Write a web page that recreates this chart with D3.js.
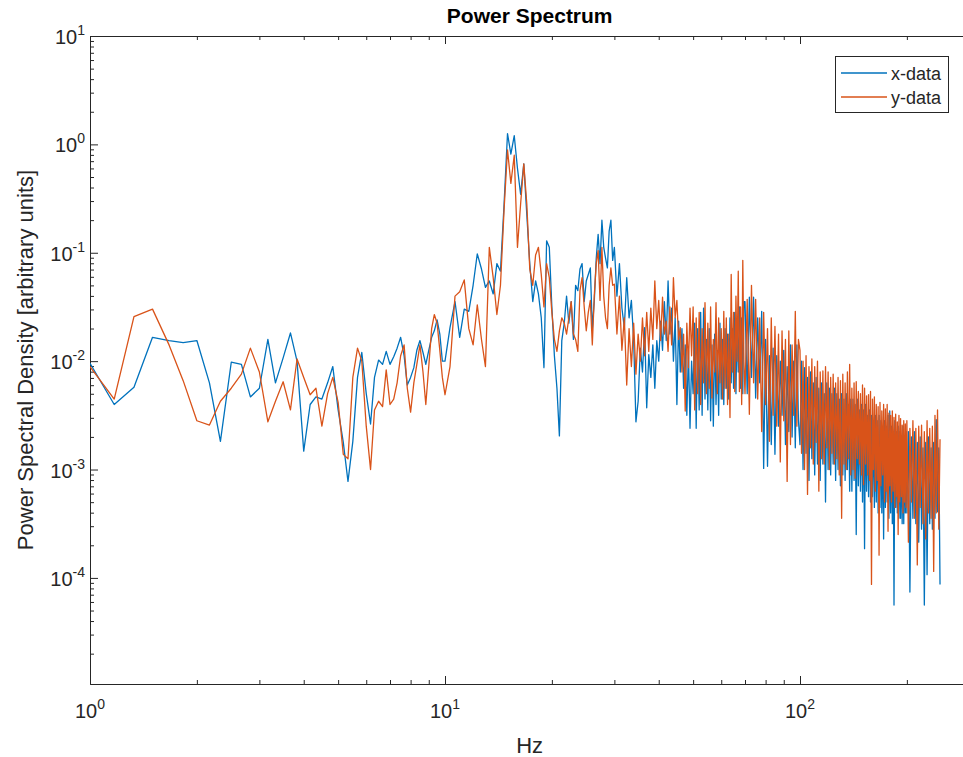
<!DOCTYPE html>
<html>
<head>
<meta charset="utf-8">
<script src="https://cdn.jsdelivr.net/npm/d3@7"></script>
<style>
  body { margin: 0; background: #fff; }
  text { font-family: "Liberation Sans", Arial, sans-serif; fill: #262626; }
</style>
</head>
<body>
<div id="chart"></div>
<script>
// frequencies (Hz), one list per band
const hzBand1 = [1,1.17,1.33,1.5,1.67,1.83,2,2.17,2.33,2.5,2.67,2.83,3,3.17,3.33,3.5,3.67,3.83,4,4.17,
  4.33,4.5,4.67,4.83,5,5.17,5.33,5.5,5.67,5.83,6,6.17,6.33,6.5,6.67,6.83,7,7.17,7.33,7.5,
  7.67,7.83,8,8.17,8.33,8.5,8.67,8.83,9,9.17,9.33,9.5,9.67,9.83];
const hzBand2 = [10,10.33,10.67,11,11.33,11.67,12,12.33,12.67,13,13.33,13.67,14,14.33,14.67,15,15.33,15.67,16,16.33,
  16.67,17,17.33,17.67,18,18.33,18.67,19,19.33,19.67,20,20.33,20.67,21,21.33,21.67,22,22.33,22.67,23,
  23.33,23.67,24,24.33,24.67,25,25.33,25.67,26,26.33,26.67,27,27.33,27.67,28,28.33,28.67,29,29.33,29.67];
const hzBand3 = [30,30.5,31,31.5,32,32.5,33,33.5,34,34.5,35,35.5,36,36.5,37,37.5,38,38.5,39,39.5,
  40,40.5,41,41.5,42,42.5,43,43.5,44,44.5,45,45.5,46,46.5,47,47.5,48,48.5,49,49.5];
const hzBand4 = [50,50.5,51,51.5,52,52.5,53,53.5,54,54.5,55,55.5,56,56.5,57,57.5,58,58.5,59,59.5,
  60,60.5,61,61.5,62,62.5,63,63.5,64,64.5,65,65.5,66,66.5,67,67.5,68,68.5,69,69.5];
const hzBand5 = [70,71,72,73,74,75,76,77,78,79,80,81,82,83,84,85,86,87,88,89,
  90,91,92,93,94,95,96,97,98,99];
const hzBand6 = [100,101,102,103,104,105,106,107,108,109,110,111,112,113,114,115,116,117,118,119,
  120,121,122,123,124,125,126,127,128,129,130,131,132,133,134,135,136,137,138,139];
const hzBand7 = [140,141,142,143,144,145,146,147,148,149,150,151,152,153,154,155,156,157,158,159,
  160,161,162,163,164,165,166,167,168,169,170,171,172,173,174,175,176,177,178,179,
  180,181,182,183,184,185,186,187,188,189,190,191,192,193,194,195,196,197,198,199];
const hzBand8 = [200,202,204,206,208,210,212,214,216,218,220,222,224,226,228,230,232,234,236,238,
  240,242,244,246,248];

// x-data, log10 of power spectral density
const xBand1 = [-2.02,-2.40,-2.24,-1.78,-1.81,-1.83,-1.81,-2.20,-2.74,-2.01,
  -2.03,-2.33,-2.25,-1.80,-2.20,-1.97,-1.74,-2.00,-2.83,-2.40,
  -2.33,-2.35,-2.20,-2.05,-2.45,-2.75,-3.11,-2.74,-2.15,-1.92,
  -2.30,-2.58,-2.15,-1.99,-2.03,-1.91,-2.03,-1.96,-1.88,-1.78,
  -1.95,-2.22,-2.15,-2.06,-1.90,-1.81,-1.92,-2.03,-1.90,-1.78,
  -1.72,-1.62,-1.75,-2.00];
const xBand2 = [-2.00,-1.69,-1.45,-1.78,-1.52,-1.54,-1.30,-1.01,-1.15,-1.32,
  -1.26,-1.38,-1.10,-1.17,-0.55,0.10,-0.09,0.08,-0.22,-0.46,
  -0.18,-0.65,-1.10,-1.45,-1.26,-1.38,-1.60,-2.06,-0.89,-0.95,
  -1.50,-1.95,-2.25,-2.69,-1.81,-1.65,-1.40,-1.65,-1.45,-1.80,
  -1.30,-1.35,-1.15,-1.10,-1.45,-1.26,-1.20,-1.14,-1.70,-1.45,
  -1.05,-0.83,-1.10,-0.70,-0.95,-1.05,-1.14,-0.80,-0.70,-1.07];
const xBand3 = [-0.95,-1.40,-1.10,-1.51,-1.69,-1.23,-1.60,-1.44,-1.81,-2.56,
  -2.37,-1.88,-2.10,-1.69,-2.43,-1.94,-2.15,-1.85,-2.25,-1.81,
  -2.00,-1.63,-1.90,-1.45,-1.81,-1.26,-1.75,-1.51,-2.00,-1.60,
  -2.40,-1.63,-2.10,-1.70,-2.25,-1.85,-2.50,-1.90,-2.62,-2.00];
const xBand4 = [-2.30,-1.65,-2.62,-1.70,-2.45,-1.55,-2.50,-1.51,-2.35,-1.80,
  -2.45,-1.70,-2.55,-1.85,-2.60,-1.75,-2.40,-1.90,-2.50,-1.65,
  -2.35,-1.80,-2.40,-1.70,-2.25,-1.75,-2.35,-1.60,-2.20,-1.70,
  -2.25,-1.55,-2.30,-1.65,-2.10,-1.50,-2.25,-1.60,-2.30,-1.45];
const xBand5 = [-1.45,-2.30,-1.41,-2.15,-1.41,-2.34,-1.60,-2.20,-1.54,-2.99,
  -1.80,-2.97,-1.95,-2.77,-1.88,-2.86,-1.95,-2.60,-2.00,-2.50,
  -1.90,-2.77,-2.05,-2.65,-1.85,-2.70,-2.00,-2.80,-1.85,-2.55];
const xBand6 = [-2.77,-2.00,-3.00,-2.06,-2.85,-2.15,-3.10,-2.10,-2.90,-2.20,
  -3.05,-2.15,-2.95,-2.25,-3.10,-2.20,-2.95,-2.30,-3.30,-2.20,
  -3.00,-2.25,-3.05,-2.30,-2.95,-2.25,-3.10,-2.30,-3.00,-2.35,
  -3.15,-2.30,-3.05,-2.35,-3.10,-2.30,-3.00,-2.40,-3.20,-2.35];
const xBand7 = [-3.20,-2.35,-3.10,-2.40,-3.60,-2.35,-3.15,-2.45,-3.20,-2.40,
  -3.30,-2.45,-3.73,-2.40,-3.20,-2.50,-3.25,-2.45,-3.30,-2.50,
  -3.25,-2.55,-3.35,-2.50,-3.30,-2.55,-3.40,-2.50,-3.35,-2.55,
  -3.40,-2.60,-3.64,-2.55,-3.35,-2.60,-3.30,-2.50,-3.45,-2.46,
  -3.40,-2.60,-3.50,-2.65,-4.25,-2.55,-3.35,-2.65,-3.40,-2.60,
  -3.45,-2.65,-3.45,-2.70,-3.50,-2.60,-3.50,-2.70,-3.40,-2.65];
const xBand8 = [-3.40,-2.65,-4.13,-2.70,-3.45,-2.65,-3.50,-2.75,-3.67,-2.70,
  -3.55,-2.80,-4.25,-2.75,-3.97,-2.70,-3.50,-2.80,-3.55,-2.75,
  -3.45,-2.54,-3.39,-2.80,-4.06];

// y-data, log10 of power spectral density
const yBand1 = [-2.05,-2.35,-1.59,-1.52,-1.85,-2.18,-2.55,-2.59,-2.37,-2.25,
  -2.12,-1.88,-2.10,-2.56,-2.37,-2.19,-2.45,-1.98,-2.15,-2.31,
  -2.25,-2.60,-2.30,-2.15,-2.38,-2.86,-2.90,-2.15,-1.88,-2.00,
  -2.60,-3.00,-2.45,-2.37,-2.42,-2.08,-2.40,-2.35,-2.20,-1.95,
  -1.85,-2.25,-2.47,-2.20,-2.03,-1.85,-2.10,-2.40,-2.05,-1.70,
  -1.57,-1.65,-1.90,-2.15];
const yBand2 = [-2.31,-2.05,-1.40,-1.36,-1.25,-1.70,-1.85,-1.48,-1.80,-2.05,
  -0.95,-1.23,-1.57,-1.30,-0.60,-0.05,-0.36,-0.10,-0.95,-0.55,
  -0.18,-0.55,-1.15,-1.30,-1.02,-0.95,-1.20,-1.50,-1.10,-1.23,
  -1.55,-1.80,-1.91,-1.72,-1.60,-1.65,-1.75,-1.60,-1.45,-1.75,
  -1.80,-1.91,-1.35,-1.23,-1.50,-1.72,-1.55,-1.44,-1.85,-1.40,
  -1.10,-0.98,-1.44,-0.95,-1.40,-1.60,-1.70,-1.30,-1.14,-1.30];
const yBand3 = [-1.29,-1.75,-1.40,-1.90,-1.60,-2.22,-1.70,-2.05,-1.65,-2.12,
  -1.75,-2.00,-1.60,-1.95,-1.55,-1.91,-1.51,-1.80,-1.26,-1.70,
  -1.44,-1.81,-1.41,-1.75,-1.63,-1.91,-1.50,-1.85,-1.23,-1.60,
  -1.44,-1.80,-1.69,-2.10,-1.75,-2.46,-1.65,-2.06,-1.51,-1.95];
const yBand4 = [-1.50,-2.45,-1.60,-2.30,-1.55,-2.40,-1.70,-2.20,-1.46,-2.30,
  -1.65,-2.25,-1.50,-2.34,-1.80,-2.10,-1.46,-2.30,-1.60,-2.20,
  -1.70,-2.35,-1.54,-2.25,-1.60,-2.40,-1.75,-2.52,-1.20,-2.10,
  -1.55,-2.28,-1.40,-2.00,-1.17,-2.28,-1.50,-2.40,-1.07,-2.00];
const yBand5 = [-2.30,-1.43,-2.49,-1.30,-2.20,-1.43,-2.35,-1.60,-2.65,-1.55,
  -2.40,-1.70,-2.74,-1.60,-2.50,-1.68,-2.60,-1.75,-2.93,-1.72,
  -2.55,-1.80,-3.11,-1.72,-2.77,-1.85,-2.50,-1.54,-2.60,-1.80];
const yBand6 = [-1.90,-2.85,-2.00,-3.00,-1.95,-3.23,-2.05,-2.80,-1.98,-2.95,
  -2.05,-2.75,-2.00,-3.20,-2.10,-2.90,-2.09,-2.95,-2.05,-2.80,
  -2.10,-3.00,-2.15,-2.85,-2.12,-2.95,-2.20,-2.90,-2.15,-3.05,
  -2.18,-3.45,-2.12,-2.95,-2.20,-3.00,-2.10,-2.90,-2.03,-3.05];
const yBand7 = [-2.25,-3.00,-2.20,-3.08,-2.19,-2.90,-2.28,-2.95,-2.30,-3.05,
  -2.22,-3.14,-2.25,-2.95,-2.32,-3.05,-2.31,-3.10,-2.28,-4.06,
  -2.35,-3.00,-2.33,-3.20,-2.40,-3.10,-2.42,-3.79,-2.38,-3.15,
  -2.46,-3.05,-2.40,-3.30,-2.44,-3.20,-2.40,-3.57,-2.48,-3.15,
  -2.50,-3.30,-2.46,-3.20,-2.52,-3.35,-2.49,-3.25,-2.56,-3.60,
  -2.50,-3.30,-2.53,-3.25,-2.59,-3.40,-2.55,-3.30,-2.58,-3.35];
const yBand8 = [-2.55,-3.67,-2.62,-3.30,-2.55,-3.45,-2.62,-3.88,-2.60,-3.35,
  -2.59,-3.50,-2.65,-3.64,-2.55,-3.40,-2.62,-3.45,-2.60,-3.94,
  -2.50,-3.40,-2.45,-3.55,-2.72];

const xTickValues = [1, 10, 100];
const xTickExps = ["0", "1", "2"];
const yTickValues = [1e-4, 1e-3, 1e-2, 1e-1, 1, 10];
const yTickExps = ["-4", "-3", "-2", "-1", "0", "1"];

const hz = [].concat(hzBand1, hzBand2, hzBand3, hzBand4, hzBand5, hzBand6, hzBand7, hzBand8);
const series = [
  {name: "x-data", color: "#0072BD",
   logs: [].concat(xBand1, xBand2, xBand3, xBand4, xBand5, xBand6, xBand7, xBand8)},
  {name: "y-data", color: "#D95319",
   logs: [].concat(yBand1, yBand2, yBand3, yBand4, yBand5, yBand6, yBand7, yBand8)}
];

const plotLeft = 90, plotTop = 36, plotBottom = 684;
const x = d3.scaleLog().domain([1, 300]).range([plotLeft, plotLeft + 355 * Math.log10(300)]);
const y = d3.scaleLog().domain([1.05e-5, 10]).range([plotBottom, plotTop]);
const plotRight = x.range()[1];
const axisColor = "#262626";

const svg = d3.select("#chart").append("svg")
    .attr("width", 963)
    .attr("height", 757);

svg.append("clipPath").attr("id", "plotClip")
  .append("rect")
    .attr("x", plotLeft).attr("y", plotTop)
    .attr("width", plotRight - plotLeft).attr("height", plotBottom - plotTop);

// minor tick positions per decade
const xMinor = [], yMinor = [];
[1, 10, 100].forEach(d => d3.range(2, 10).forEach(k => { if (k * d <= 300) xMinor.push(k * d); }));
d3.range(-5, 1).forEach(e => d3.range(2, 10).forEach(k => yMinor.push(k * Math.pow(10, e))));

function drawTicks(gen, transform, values, size) {
  svg.append("g")
      .attr("transform", transform)
      .call(gen.tickValues(values).tickSize(size).tickSizeOuter(0).tickFormat(""))
      .call(g => g.selectAll("line,path").attr("stroke", axisColor));
}
drawTicks(d3.axisBottom(x), `translate(0,${plotBottom})`, xTickValues, -8);
drawTicks(d3.axisBottom(x), `translate(0,${plotBottom})`, xMinor, -4);
drawTicks(d3.axisTop(x), `translate(0,${plotTop})`, xTickValues, -8);
drawTicks(d3.axisTop(x), `translate(0,${plotTop})`, xMinor, -4);
drawTicks(d3.axisLeft(y), `translate(${plotLeft},0)`, yTickValues, -8);
drawTicks(d3.axisLeft(y), `translate(${plotLeft},0)`, yMinor.filter(v => v >= y.domain()[0]), -4);

function powerLabel(sel, exp) {
  sel.append("tspan").text("10");
  sel.append("tspan").attr("dy", -9).attr("font-size", 14).text(exp);
}

svg.selectAll(".xlabel")
    .data(xTickValues)
  .enter()
    .append("text")
    .attr("x", d => x(d))
    .attr("y", 718)
    .attr("text-anchor", "middle")
    .attr("font-size", 20)
    .each(function(d, i) { powerLabel(d3.select(this), xTickExps[i]); });

svg.selectAll(".ylabel")
    .data(yTickValues)
  .enter()
    .append("text")
    .attr("x", 85)
    .attr("y", d => y(d) + 8)
    .attr("text-anchor", "end")
    .attr("font-size", 20)
    .each(function(d, i) { powerLabel(d3.select(this), yTickExps[i]); });

// spectra
const line = d3.line()
    .x((d, i) => x(hz[i]))
    .y(d => y(Math.pow(10, d)));

svg.append("g")
    .attr("clip-path", "url(#plotClip)")
  .selectAll("path")
    .data(series)
  .enter()
    .append("path")
    .attr("d", d => line(d.logs))
    .attr("fill", "none")
    .attr("stroke", d => d.color)
    .attr("stroke-width", 1.3)
    .attr("stroke-linejoin", "round");

// titles
svg.append("text")
    .attr("x", (plotLeft + plotRight) / 2).attr("y", 23)
    .attr("text-anchor", "middle")
    .attr("font-size", 21)
    .attr("font-weight", "bold")
    .style("fill", "#000")
    .text("Power Spectrum");

svg.append("text")
    .attr("x", (plotLeft + plotRight) / 2).attr("y", 753)
    .attr("text-anchor", "middle")
    .attr("font-size", 22)
    .text("Hz");

svg.append("text")
    .attr("transform", `translate(33,${(plotTop + plotBottom) / 2}) rotate(-90)`)
    .attr("text-anchor", "middle")
    .attr("font-size", 22)
    .text("Power Spectral Density [arbitrary units]");

// legend
const legend = svg.append("g");
legend.append("rect")
    .attr("x", 835.5).attr("y", 56.5)
    .attr("width", 113).attr("height", 56)
    .attr("fill", "#fff")
    .attr("stroke", axisColor);
legend.selectAll("line")
    .data(series)
  .enter()
    .append("line")
    .attr("x1", 841).attr("x2", 887)
    .attr("y1", (d, i) => 73 + 24 * i)
    .attr("y2", (d, i) => 73 + 24 * i)
    .attr("stroke", d => d.color)
    .attr("stroke-width", 1.3);
legend.selectAll("text")
    .data(series)
  .enter()
    .append("text")
    .attr("x", 891)
    .attr("y", (d, i) => 79.5 + 24 * i)
    .attr("font-size", 18)
    .text(d => d.name);
</script>
</body>
</html>
